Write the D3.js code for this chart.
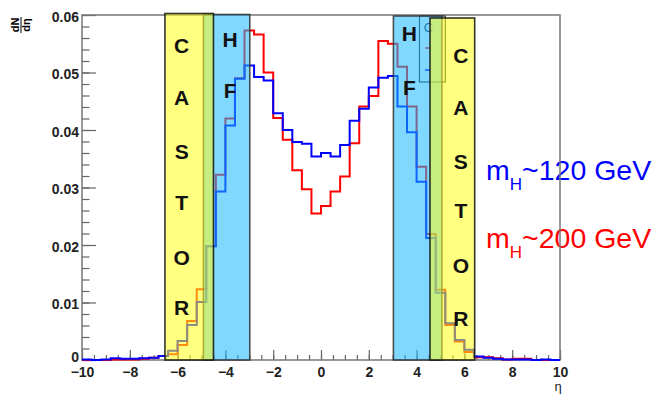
<!DOCTYPE html>
<html><head><meta charset="utf-8">
<script src="https://cdn.jsdelivr.net/npm/d3@7"></script>
<style>
body{margin:0;background:#fff;}
svg{display:block;}
text{font-family:"Liberation Sans",Arial,Helvetica,sans-serif;}
</style>
</head><body>
<svg id="chart" width="663" height="394"></svg>
<script>
// ---- data ----
const etaEdges = [-10,-9.6,-9.2,-8.8,-8.4,-8,-7.6,-7.2,-6.8,-6.4,-6,-5.6,-5.2,-4.8,-4.4,-4,-3.6,-3.2,-2.8,-2.4,-2,-1.6,-1.2,-0.8,-0.4,0,0.4,0.8,1.2,1.6,2,2.4,2.8,3.2,3.6,4,4.4,4.8,5.2,5.6,6,6.4,6.8,7.2,7.6,8,8.4,8.8,9.2,9.6,10];
const mH120 = [0.0001,0.0000,0.0001,0.0003,0.0002,0.0002,0.0003,0.0004,0.0007,0.0016,
               0.0033,0.0061,0.0101,0.0198,0.0293,0.0408,0.0489,0.0512,0.0492,0.0486,
               0.0429,0.0400,0.0379,0.0376,0.0354,0.0360,0.0354,0.0374,0.0416,0.0437,
               0.0474,0.0491,0.0494,0.0441,0.0396,0.0310,0.0212,0.0117,0.0064,0.0035,
               0.0018,0.0006,0.0004,0.0002,0.0001,0.0001,0.0001,0.0000,0.0001,0.0000];
const mH200 = [0.0000,0.0000,0.0000,0.0001,0.0001,0.0001,0.0002,0.0004,0.0007,0.0010,
               0.0026,0.0068,0.0123,0.0198,0.0322,0.0420,0.0490,0.0573,0.0566,0.0500,
               0.0421,0.0383,0.0330,0.0297,0.0255,0.0268,0.0293,0.0319,0.0377,0.0441,
               0.0459,0.0555,0.0550,0.0510,0.0441,0.0336,0.0219,0.0122,0.0061,0.0032,
               0.0014,0.0005,0.0005,0.0003,0.0001,0.0002,0.0002,0.0000,0.0000,0.0000];
const xTickValues = [-10,-8,-6,-4,-2,0,2,4,6,8,10];
const yTickValues = [0,0.01,0.02,0.03,0.04,0.05,0.06];
const yTickLabels = ["0","0.01","0.02","0.03","0.04","0.05","0.06"];
const seriesNames = ["m_H~120 GeV","m_H~200 GeV"];
const detectorNames = ["HF","HF","CASTOR","CASTOR"];
const detectorRanges = [[-4.92,-2.98],[3.03,5.06],[-6.53,-4.5],[4.56,6.43]];

// ---- layout ----
const svg = d3.select("#chart");
const x = d3.scaleLinear().domain([-10,10]).range([82,560]);
const y = d3.scaleLinear().domain([0,0.06]).range([360,15]);

// legend text (drawn first so frame line crosses it)
const legendCfg = [{name:seriesNames[0], color:"#0000ff", x:486, y:180},
                   {name:seriesNames[1], color:"#ff0000", x:486, y:248}];
legendCfg.forEach(l=>{
  const parts = l.name.split("_");
  const t = svg.append("text").attr("x",l.x).attr("y",l.y).attr("fill",l.color)
    .attr("font-size",28.5);
  t.append("tspan").text(parts[0]);
  t.append("tspan").attr("font-size",17).attr("dy",10).text(parts[1].slice(0,1));
  t.append("tspan").attr("dy",-10).text(parts[1].slice(1));
});

// axes
const axisColor = "#666";
const gx = svg.append("g").attr("transform",`translate(0,${y(0)})`);
gx.call(d3.axisBottom(x).tickValues(d3.range(-10,10.01,0.5)).tickSizeInner(-5).tickSizeOuter(0).tickFormat(""));
gx.call(g=>g.select(".domain").remove());
const gx2 = svg.append("g").attr("transform",`translate(0,${y(0)})`);
gx2.call(d3.axisBottom(x).tickValues(xTickValues).tickSizeInner(-10).tickSizeOuter(0).tickPadding(7).tickFormat(d3.format("d")));
gx2.select(".domain").remove();
[gx,gx2].forEach(g=>g.selectAll("line").attr("stroke",axisColor).attr("stroke-width",1.2));
gx2.selectAll("text").attr("font-size",14).attr("font-weight","bold").attr("fill","#222");

const gy = svg.append("g").attr("transform",`translate(${x(-10)},0)`);
gy.call(d3.axisLeft(y).tickValues(d3.range(0,0.0601,0.002)).tickSizeInner(-7.5).tickSizeOuter(0).tickFormat(""));
gy.select(".domain").remove();
const gy2 = svg.append("g").attr("transform",`translate(${x(-10)},0)`);
gy2.call(d3.axisLeft(y).tickValues(yTickValues).tickSizeInner(-14).tickSizeOuter(0).tickPadding(3)
  .tickFormat((d,i)=>yTickLabels[i]));
gy2.select(".domain").remove();
[gy,gy2].forEach(g=>g.selectAll("line").attr("stroke",axisColor).attr("stroke-width",1.2));
gy2.selectAll("text").attr("font-size",14).attr("font-weight","bold").attr("fill","#222")
  .attr("dy",(d)=> d===0 ? "0.1em" : "0.45em");

// frame
svg.append("rect").attr("x",x(-10)).attr("y",y(0.06)).attr("width",x(10)-x(-10)).attr("height",y(0)-y(0.06))
  .attr("fill","none").attr("stroke","#777").attr("stroke-width",1.5);

// axis titles
svg.append("text").attr("x",558).attr("y",391).attr("font-size",13).attr("text-anchor","middle").attr("fill","#222").text("η");
const yt = svg.append("g").attr("transform","translate(21,25) rotate(-90)");
yt.append("text").attr("x",0).attr("y",-2).attr("text-anchor","middle").attr("font-size",11).attr("font-weight","bold").text("dN");
yt.append("line").attr("x1",-8).attr("x2",8).attr("y1",0).attr("y2",0).attr("stroke","#000").attr("stroke-width",1);
yt.append("text").attr("x",0).attr("y",9).attr("text-anchor","middle").attr("font-size",11).attr("font-weight","bold").text("dη");

// histograms
function stepPts(vals){
  const p = vals.map((v,i)=>[etaEdges[i],v]);
  p.push([etaEdges[etaEdges.length-1], vals[vals.length-1]]);
  return p;
}
const line = d3.line().x(d=>x(d[0])).y(d=>y(d[1])).curve(d3.curveStepAfter);
svg.append("path").attr("d",line(stepPts(mH200))).attr("fill","none").attr("stroke","#ff0000").attr("stroke-width",2);
svg.append("path").attr("d",line(stepPts(mH120))).attr("fill","none").attr("stroke","#0000ff").attr("stroke-width",2);

// partially hidden small legend box
const lb = svg.append("g");
lb.append("rect").attr("x",x(4.12)).attr("y",16).attr("width",x(5.2)-x(4.12)).attr("height",66)
  .attr("fill","none").attr("stroke","#333").attr("stroke-width",1.2);
lb.append("line").attr("x1",x(4.35)).attr("x2",x(4.6)).attr("y1",48).attr("y2",48).attr("stroke","#ff0000").attr("stroke-width",1.5);
lb.append("line").attr("x1",x(4.35)).attr("x2",x(4.6)).attr("y1",70).attr("y2",70).attr("stroke","#0000ff").attr("stroke-width",1.5);
lb.append("text").attr("x",x(4.3)).attr("y",32).attr("font-size",13).attr("fill","#225").text("C");

// detector bands
const bandStyle = {HF:{fill:"#18b8ff",stroke:"#333",top:[14.5,16]}, CASTOR:{fill:"#ffff18",stroke:"#111",top:[13.5,18]}};
detectorRanges.forEach((r,i)=>{
  const nm = detectorNames[i];
  const st = bandStyle[nm];
  const top = r[0] < 0 ? st.top[0] : st.top[1];
  svg.append("rect").attr("x",x(r[0])).attr("y",top).attr("width",x(r[1])-x(r[0])).attr("height",y(0)-top)
    .attr("fill",st.fill).attr("fill-opacity",0.55).attr("stroke",st.stroke).attr("stroke-opacity",0.85).attr("stroke-width",1.6);
});

// detector letters
const letterCfg = [
  {txt:"HF", cx:x(-3.8), ys:[39,90]},
  {txt:"HF", cx:x(3.7), ys:[33,87]},
  {txt:"CASTOR", cx:x(-5.83), ys:[45,97,151,202,257,307]},
  {txt:"CASTOR", cx:x(5.85), ys:[55,107,161,210,265,318]}
];
letterCfg.forEach(c=>{
  c.txt.split("").forEach((ch,i)=>{
    svg.append("text").attr("x",c.cx).attr("y",c.ys[i]).attr("dy","0.36em").attr("text-anchor","middle")
      .attr("font-size",21).attr("font-weight","bold").attr("fill","#111").text(ch);
  });
});
</script>
</body></html>
